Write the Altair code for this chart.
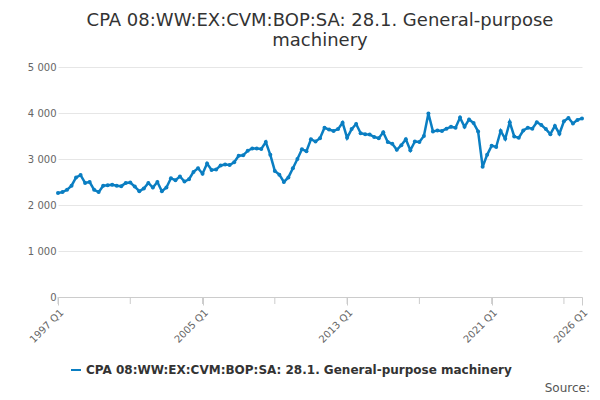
import altair as alt
import pandas as pd

series = "CPA 08:WW:EX:CVM:BOP:SA: 28.1. General-purpose machinery"
values = [
    2260, 2280, 2330, 2420, 2600, 2650, 2480, 2500, 2330, 2280, 2420, 2430,
    2440, 2420, 2410, 2480, 2490, 2400, 2300, 2360, 2480, 2380, 2500, 2300,
    2380, 2580, 2540, 2620, 2510, 2560, 2720, 2800, 2680, 2900, 2760, 2770,
    2860, 2880, 2870, 2930, 3070, 3080, 3180, 3230, 3230, 3220, 3370, 3090,
    2740, 2660, 2500, 2600, 2800, 3000, 3210, 3170, 3430, 3380, 3450, 3680,
    3640, 3610, 3650, 3790, 3460, 3650, 3760, 3560, 3540, 3530, 3480, 3450,
    3580, 3370, 3330, 3200, 3300, 3430, 3190, 3380, 3370, 3500, 3990, 3600,
    3620, 3610, 3660, 3700, 3680, 3900, 3700, 3860, 3780, 3600, 2830, 3090,
    3290, 3260, 3610, 3440, 3800, 3490, 3460, 3620, 3680, 3660, 3800, 3740,
    3650, 3540, 3720, 3550, 3820, 3890, 3770, 3850, 3880,
]
quarters = [f"{1997 + i // 4} Q{i % 4 + 1}" for i in range(len(values))]
tick_idx = [0, 32, 64, 96, 116]
minor_idx = [0, 16, 32, 48, 64, 80, 96, 112]

df = pd.DataFrame({"i": range(len(values)), "q": quarters, "v": values, "s": series})

label_map = "{" + ",".join(f"'{i}':'{quarters[i]}'" for i in tick_idx) + "}"

line = (
    alt.Chart(df)
    .mark_line(color="#0a7ec2", strokeWidth=2.5,
               point=alt.OverlayMarkDef(color="#0a7ec2", size=16, filled=True))
    .encode(
        x=alt.X("i:Q", title=None, scale=alt.Scale(domain=[0, 116], nice=False),
                axis=alt.Axis(values=tick_idx, labelAngle=-45, labelAlign="right",
                              labelExpr=f"{label_map}[datum.value]", grid=False,
                              domainColor="#ccc", tickColor="#ccc", tickSize=8,
                              labelColor="#666", labelFont="DejaVu Sans")),
        y=alt.Y("v:Q", title=None, scale=alt.Scale(domain=[0, 5000]),
                axis=alt.Axis(values=[0, 1000, 2000, 3000, 4000, 5000],
                              domain=False, ticks=False,
                              labelExpr="replace(format(datum.value, ','), ',', ' ')",
                              gridColor="#e6e6e6", labelColor="#666",
                              labelFont="DejaVu Sans")),
        color=alt.Color("s:N", scale=alt.Scale(range=["#0a7ec2"]),
                        legend=alt.Legend(title=None, orient="none", legendX=12,
                                          legendY=297, symbolType="stroke",
                                          symbolStrokeWidth=2, labelFontSize=12,
                                          labelFontWeight="bold", labelColor="#333",
                                          labelFont="DejaVu Sans", labelLimit=600)),
    )
)

minor = alt.Chart(pd.DataFrame({"m": minor_idx})).mark_rule(color="#ccc").encode(
    x="m:Q", y=alt.value(230), y2=alt.value(237)
)

source = alt.Chart(pd.DataFrame({"t": ["Source:"]})).mark_text(
    align="right", fontSize=12, color="#555", font="DejaVu Sans"
).encode(text="t:N", x=alt.value(532), y=alt.value(321))

chart = (
    alt.layer(minor, line, source, title=alt.Title(
        "CPA 08:WW:EX:CVM:BOP:SA: 28.1. General-purpose",
        subtitle="machinery", fontSize=18, subtitleFontSize=18,
        font="DejaVu Sans", subtitleFont="DejaVu Sans", fontWeight="normal",
        color="#333", subtitleColor="#333", anchor="middle", offset=12,
        subtitlePadding=2,
    ))
    .properties(width=524, height=230, autosize="none",
                padding={"left": 50, "top": 59, "right": 10, "bottom": 110})
    .configure_view(stroke=None)
)

chart.save("out.html", embed_options={"renderer": "svg", "actions": False})
